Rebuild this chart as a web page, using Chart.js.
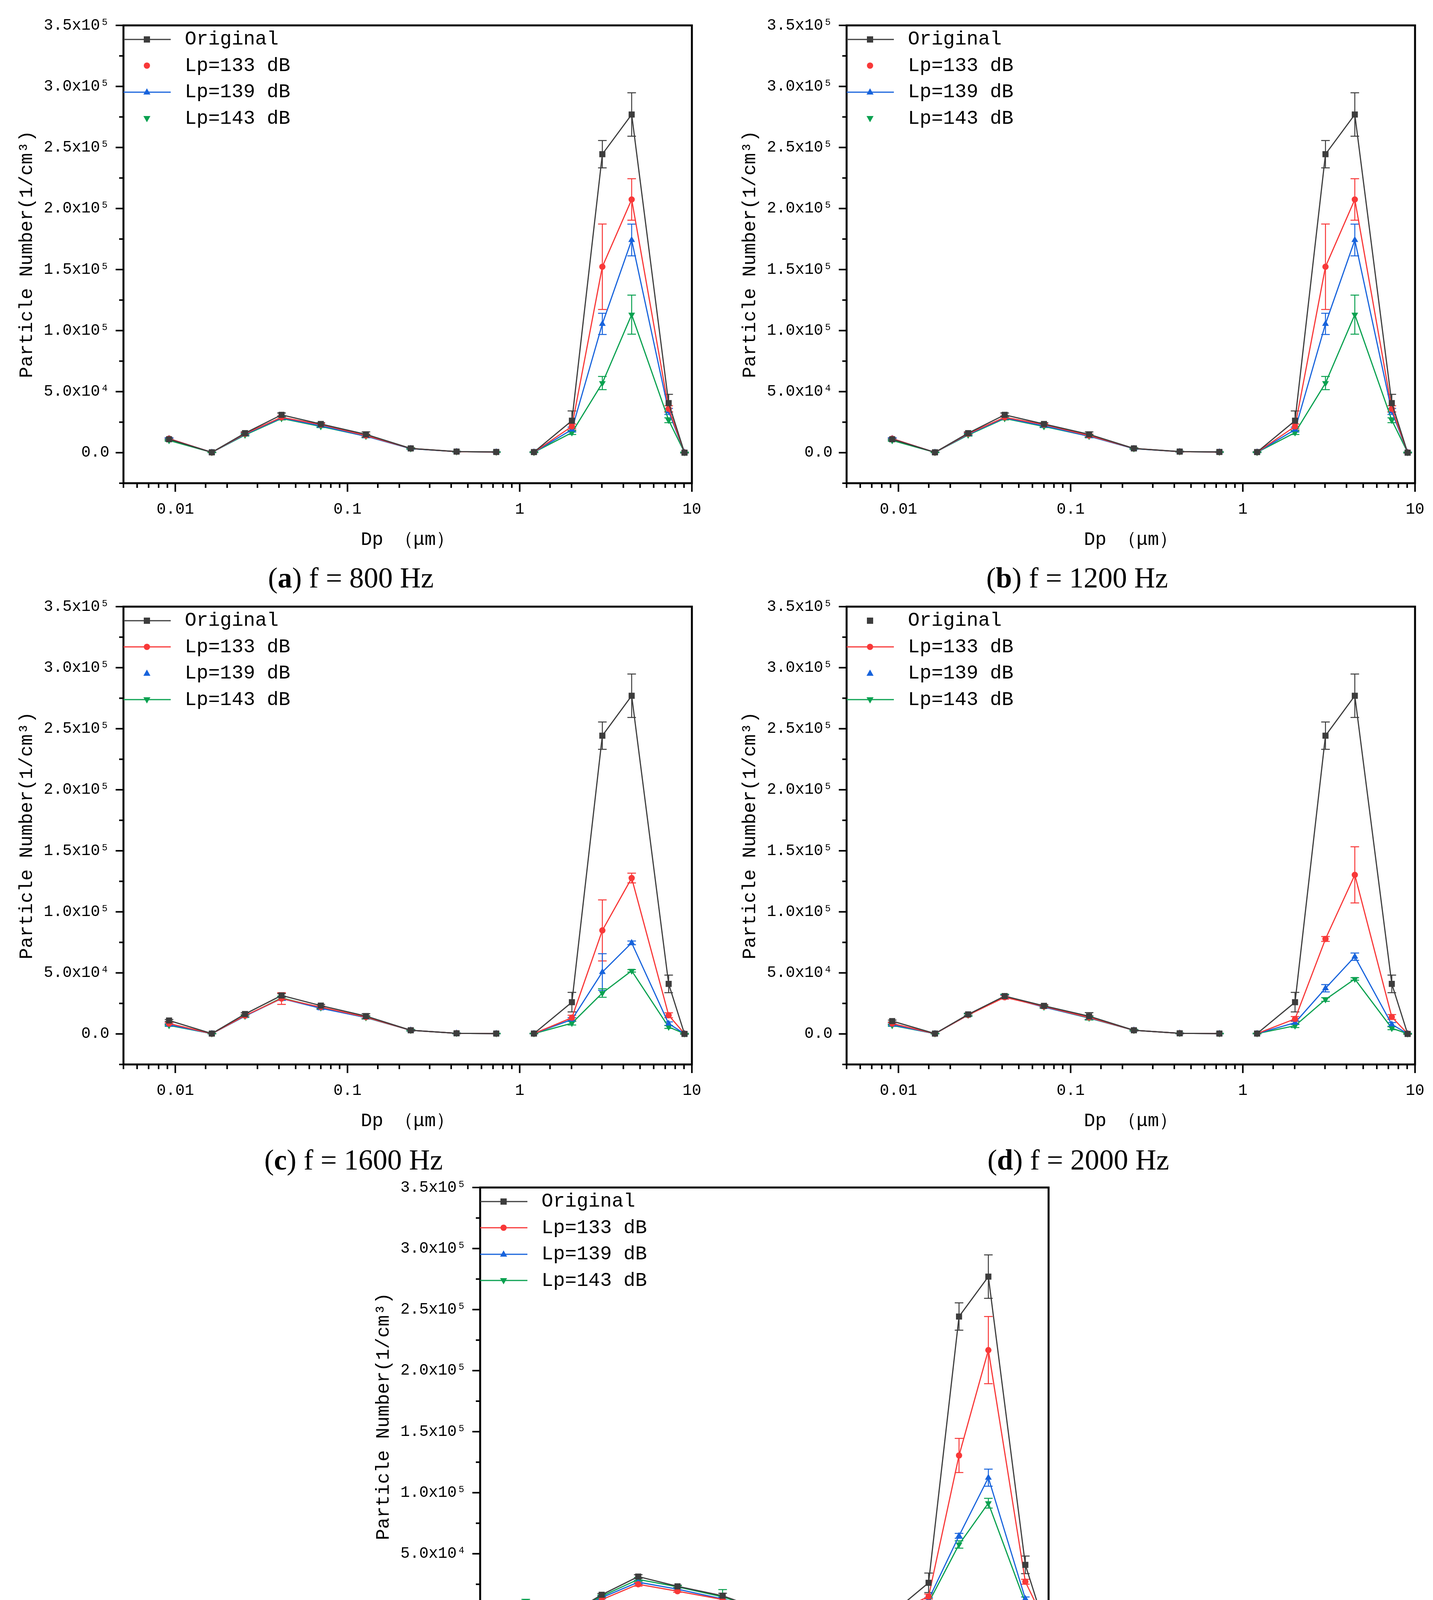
<!DOCTYPE html>
<html>
<head>
<meta charset="utf-8">
<script src="https://cdn.jsdelivr.net/npm/chart.js@4.4.1/dist/chart.umd.min.js"></script>
<style>
  html, body { margin: 0; padding: 0; background: #fff; }
  body { width: 3668px; height: 4508px; position: relative; overflow: hidden; }
  .panel { position: absolute; }
  .caption { position: absolute; transform: translate(-50%, -50%); white-space: nowrap;
             font-family: 'Liberation Serif', 'DejaVu Serif', serif; font-size: 74px; color: #000; }
  .legend { position: absolute; font-family: 'Liberation Mono', 'DejaVu Sans Mono', monospace;
            font-size: 50px; color: #000; }
  .legend .row { display: flex; align-items: center; height: 67.5px; white-space: pre; }
  .legend svg { flex: none; }
</style>
</head>
<body>
<script>
// ---------------- DATA ----------------
const seriesNames = ['Original', 'Lp=133 dB', 'Lp=139 dB', 'Lp=143 dB'];
const dp = [0.0092, 0.0163, 0.0254, 0.0414, 0.0700, 0.128, 0.233, 0.430, 0.731, 1.21, 2.01, 3.02, 4.47, 7.33, 9.06];
const gapAfterIndex = 8; // instrument change: line is broken between 0.731 and 1.21 um

const yTickValues = [0, 50000, 100000, 150000, 200000, 250000, 300000, 350000];
const yTickLabels = ['0.0', '5.0x10⁴', '1.0x10⁵', '1.5x10⁵', '2.0x10⁵', '2.5x10⁵', '3.0x10⁵', '3.5x10⁵'];
const xTickValues = [0.01, 0.1, 1, 10];
const xTickLabels = ['0.01', '0.1', '1', '10'];

// (a) f = 800 Hz
const orig800   = [11000, 300, 16000, 31000, 23500, 15000, 3500, 900, 600, 500, 26200, 244500, 277000, 40600, 0];
const lp133_800 = [11500, 200, 15500, 29000, 23000, 14000, 3500, 800, 500, 400, 21500, 152300, 207400, 35900, 200];
const lp139_800 = [11500, 200, 15000, 28500, 22000, 13500, 3300, 800, 500, 400, 18900, 105500, 174200, 33800, 200];
const lp143_800 = [10000, 200, 14500, 28000, 21500, 13500, 3300, 800, 500, 300, 16400, 57000, 113100, 26600, 200];
const origErr800  = [800, 300, 1000, 1500, 1000, 2000, 600, 300, 300, 300, 8000, 11200, 17800, 7200, 300];
const lp133Err800 = [700, 200, 900, 1200, 900, 1200, 500, 200, 200, 200, 2000, 35000, 17000, 2500, 200];
const lp139Err800 = [700, 200, 900, 1200, 900, 1200, 500, 200, 200, 200, 2000, 8700, 13000, 2500, 200];
const lp143Err800 = [700, 200, 900, 1200, 900, 1200, 500, 200, 200, 200, 1500, 5400, 16000, 2000, 200];

// (b) f = 1200 Hz
const orig1200   = [11000, 300, 16000, 31000, 23500, 15000, 3500, 900, 600, 500, 26200, 244500, 277000, 40600, 0];
const lp133_1200 = [11500, 200, 15500, 29000, 23000, 14000, 3500, 800, 500, 400, 21500, 152300, 207400, 35900, 200];
const lp139_1200 = [11500, 200, 15000, 28500, 22000, 13500, 3300, 800, 500, 400, 18900, 105500, 174200, 33800, 200];
const lp143_1200 = [10000, 200, 14500, 28000, 21500, 13500, 3300, 800, 500, 300, 16400, 57000, 113100, 26600, 200];
const origErr1200  = [800, 300, 1000, 1500, 1000, 2000, 600, 300, 300, 300, 8000, 11200, 17800, 7200, 300];
const lp133Err1200 = [700, 200, 900, 1200, 900, 1200, 500, 200, 200, 200, 2000, 35000, 17000, 2500, 200];
const lp139Err1200 = [700, 200, 900, 1200, 900, 1200, 500, 200, 200, 200, 2000, 8700, 13000, 2500, 200];
const lp143Err1200 = [700, 200, 900, 1200, 900, 1200, 500, 200, 200, 200, 1500, 5400, 16000, 2000, 200];

// (c) f = 1600 Hz
const orig1600   = [11000, 300, 16300, 31500, 23200, 14600, 3000, 500, 300, 300, 26000, 244300, 277000, 41000, 0];
const lp133_1600 = [8500, 200, 15000, 29000, 22000, 13800, 3000, 500, 300, 300, 13300, 84800, 127700, 15300, 200];
const lp139_1600 = [7500, 200, 14600, 29000, 21000, 13500, 3000, 500, 300, 300, 11800, 50700, 74600, 8400, 200];
const lp143_1600 = [7000, 200, 14600, 29500, 21500, 13400, 3000, 500, 300, 300, 8800, 33500, 51700, 5700, 200];
const origErr1600  = [800, 300, 1000, 1500, 1000, 2000, 600, 300, 300, 300, 8000, 11200, 17800, 7200, 300];
const lp133Err1600 = [700, 200, 900, 4800, 900, 1200, 500, 200, 200, 200, 2000, 25000, 4000, 2000, 200];
const lp139Err1600 = [700, 200, 900, 1500, 900, 1200, 500, 200, 200, 200, 1500, 15000, 1500, 1500, 200];
const lp143Err1600 = [700, 200, 900, 1500, 900, 1200, 500, 200, 200, 200, 1500, 3500, 1000, 1200, 200];

// (d) f = 2000 Hz
const orig2000   = [10500, 300, 16000, 31000, 23000, 14500, 3000, 500, 300, 300, 26000, 244300, 277000, 41000, 0];
const lp133_2000 = [8500, 200, 15500, 30000, 22500, 13500, 3000, 500, 300, 300, 12300, 77800, 130300, 13900, 200];
const lp139_2000 = [7500, 200, 15500, 30500, 22000, 13200, 3000, 500, 300, 300, 9200, 37400, 63300, 7800, 200];
const lp143_2000 = [7000, 200, 15500, 31000, 22000, 13000, 3000, 500, 300, 300, 6700, 28200, 45000, 4700, 200];
const origErr2000  = [800, 300, 1000, 1500, 1000, 3000, 600, 300, 300, 300, 8000, 11200, 17800, 7200, 300];
const lp133Err2000 = [700, 200, 900, 1500, 900, 1500, 500, 200, 200, 200, 2000, 2000, 23000, 2000, 200];
const lp139Err2000 = [700, 200, 900, 1500, 900, 1500, 500, 200, 200, 200, 1500, 3000, 3000, 1500, 200];
const lp143Err2000 = [700, 200, 900, 1500, 900, 1500, 500, 200, 200, 200, 1500, 1500, 1000, 1200, 200];

// (e) f = 2400 Hz
const orig2400   = [8000, 300, 16400, 31300, 23300, 15600, 2600, 300, 300, 300, 26200, 244300, 277000, 40900, 0];
const lp133_2400 = [6600, 200, 12400, 25000, 19300, 12500, 2600, 300, 300, 300, 15000, 130500, 216800, 27100, 200];
const lp139_2400 = [7800, 200, 14100, 26700, 21000, 13000, 2600, 300, 300, 300, 12500, 64700, 112300, 13100, 200];
const lp143_2400 = [11200, 200, 15200, 29000, 22900, 14700, 2600, 300, 300, 300, 9900, 57600, 91400, 9700, 200];
const origErr2400  = [800, 300, 1000, 1500, 1000, 2000, 2500, 300, 300, 300, 8000, 11200, 17800, 7200, 300];
const lp133Err2400 = [700, 200, 900, 1500, 900, 1500, 2500, 200, 200, 200, 2000, 14000, 27500, 2000, 200];
const lp139Err2400 = [700, 200, 900, 1500, 900, 1500, 2500, 200, 200, 200, 1500, 2000, 7000, 1500, 200];
const lp143Err2400 = [1500, 200, 900, 1500, 900, 6000, 2500, 200, 200, 200, 1500, 3000, 4000, 1200, 200];

// ---------------- STYLE / LAYOUT ----------------
const colors = ['#3d3d3d', '#f83838', '#1763dc', '#0aa150'];
const pointStyles = ['rect', 'circle', 'triangle', 'triangle'];
const pointRotations = [0, 0, 0, 180];
const pointRadii = [11, 8, 10, 10];

const PLOT_W = 1455, PLOT_H = 1172, YW = 316, PAD_T = 70, PAD_R = 75, XH = 200;

const panels = [
  { letter: 'a', freq: '800',  left: 316,  top: 65,   cap: [898, 1479],
    vals: [orig800, lp133_800, lp139_800, lp143_800], errs: [origErr800, lp133Err800, lp139Err800, lp143Err800],
    legendLine: [true, false, true, false] },
  { letter: 'b', freq: '1200', left: 2167, top: 65,   cap: [2757, 1479],
    vals: [orig1200, lp133_1200, lp139_1200, lp143_1200], errs: [origErr1200, lp133Err1200, lp139Err1200, lp143Err1200],
    legendLine: [true, false, true, false] },
  { letter: 'c', freq: '1600', left: 316,  top: 1553, cap: [905, 2969],
    vals: [orig1600, lp133_1600, lp139_1600, lp143_1600], errs: [origErr1600, lp133Err1600, lp139Err1600, lp143Err1600],
    legendLine: [true, true, false, true] },
  { letter: 'd', freq: '2000', left: 2167, top: 1553, cap: [2760, 2969],
    vals: [orig2000, lp133_2000, lp139_2000, lp143_2000], errs: [origErr2000, lp133Err2000, lp139Err2000, lp143Err2000],
    legendLine: [false, true, false, true] },
  { letter: 'e', freq: '2400', left: 1229, top: 3040, cap: [1832, 4471],
    vals: [orig2400, lp133_2400, lp139_2400, lp143_2400], errs: [origErr2400, lp133Err2400, lp139Err2400, lp143Err2400],
    legendLine: [true, true, true, true] }
];

Chart.defaults.font.family = "'Liberation Mono', 'DejaVu Sans Mono', monospace";
Chart.defaults.color = '#000';

const isPow10 = v => Math.abs(Math.log10(v) - Math.round(Math.log10(v))) < 1e-6;

const errorBars = {
  id: 'errorBars',
  beforeDatasetsDraw(chart) {
    const { ctx, scales: { x, y } } = chart;
    ctx.save();
    ctx.lineWidth = 2.5;
    chart.data.datasets.forEach((ds) => {
      if (!ds.errors) return;
      ctx.strokeStyle = ds.borderColor;
      ds.data.forEach((p, j) => {
        const e = ds.errors[j];
        if (!e || p.y == null) return;
        const px = x.getPixelForValue(p.x);
        const t = y.getPixelForValue(p.y + e), b = y.getPixelForValue(p.y - e);
        ctx.beginPath();
        ctx.moveTo(px, t); ctx.lineTo(px, b);
        ctx.moveTo(px - 11, t); ctx.lineTo(px + 11, t);
        ctx.moveTo(px - 11, b); ctx.lineTo(px + 11, b);
        ctx.stroke();
      });
    });
    ctx.restore();
  }
};

const frameTicks = {
  id: 'frameTicks',
  afterDraw(chart) {
    const { ctx, chartArea: a, scales: { x, y } } = chart;
    ctx.save();
    ctx.strokeStyle = '#000';
    ctx.lineWidth = 4;
    x.ticks.forEach(t => {
      const px = x.getPixelForValue(t.value);
      if (px < a.left - 1 || px > a.right + 1) return;
      const len = isPow10(t.value) ? 22 : 12;
      ctx.beginPath(); ctx.moveTo(px, a.bottom); ctx.lineTo(px, a.bottom + len); ctx.stroke();
    });
    y.ticks.forEach(t => {
      const py = y.getPixelForValue(t.value);
      const major = yTickValues.some(v => Math.abs(v - t.value) < 1);
      ctx.beginPath(); ctx.moveTo(a.left, py); ctx.lineTo(a.left - (major ? 20 : 11), py); ctx.stroke();
    });
    ctx.lineWidth = 5;
    ctx.strokeRect(a.left, a.top, a.right - a.left, a.bottom - a.top);
    ctx.restore();
  }
};

function legendSymbol(i, withLine) {
  const c = colors[i];
  let shape = '';
  if (i === 0) shape = `<rect x="52" y="7" width="16" height="16" fill="${c}"/>`;
  else if (i === 1) shape = `<circle cx="60" cy="15" r="8" fill="${c}"/>`;
  else if (i === 2) shape = `<polygon points="60,5 69,21 51,21" fill="${c}"/>`;
  else shape = `<polygon points="51,9 69,9 60,25" fill="${c}"/>`;
  const line = withLine ? `<line x1="0" y1="15" x2="121" y2="15" stroke="${c}" stroke-width="3"/>` : '';
  return `<svg width="157" height="30" viewBox="0 0 157 30">${line}${shape}</svg>`;
}

panels.forEach(p => {
  const wrap = document.createElement('div');
  wrap.className = 'panel';
  const W = YW + PLOT_W + PAD_R, H = PAD_T + PLOT_H + XH;
  wrap.style.left = (p.left - YW) + 'px';
  wrap.style.top = (p.top - PAD_T) + 'px';
  wrap.style.width = W + 'px';
  wrap.style.height = H + 'px';
  const cv = document.createElement('canvas');
  wrap.appendChild(cv);
  document.body.appendChild(wrap);

  const datasets = seriesNames.map((name, i) => ({
    label: name,
    data: dp.map((d, j) => ({ x: d, y: p.vals[i][j] })),
    errors: p.errs[i],
    borderColor: colors[i],
    backgroundColor: colors[i],
    borderWidth: 3,
    pointStyle: pointStyles[i],
    pointRotation: pointRotations[i],
    pointRadius: pointRadii[i],
    pointHoverRadius: pointRadii[i],
    pointBorderWidth: 0,
    tension: 0,
    segment: { borderColor: ctx => ctx.p0DataIndex === gapAfterIndex ? 'rgba(0,0,0,0)' : undefined }
  }));

  new Chart(cv, {
    type: 'line',
    data: { datasets },
    options: {
      responsive: true,
      maintainAspectRatio: false,
      devicePixelRatio: 1,
      animation: false,
      layout: { padding: { top: PAD_T, right: PAD_R, bottom: 0, left: 0 } },
      plugins: { legend: { display: false }, tooltip: { enabled: false } },
      scales: {
        x: {
          type: 'logarithmic', min: 0.005, max: 10,
          grid: { display: false, drawTicks: false },
          border: { display: false },
          ticks: {
            autoSkip: false, maxRotation: 0, minRotation: 0, padding: 43,
            font: { size: 40 },
            callback: v => { const k = xTickValues.findIndex(t => Math.abs(t - v) / t < 1e-6); return k >= 0 ? xTickLabels[k] : ''; }
          },
          title: { display: true, text: 'Dp （μm）', font: { size: 48 }, padding: { top: 0, bottom: 26 } },
          afterFit: s => { s.height = XH; }
        },
        y: {
          type: 'linear', min: -25000, max: 350000,
          grid: { display: false, drawTicks: false },
          border: { display: false },
          ticks: {
            stepSize: 25000, padding: 36, font: { size: 40 },
            callback: v => { const k = yTickValues.findIndex(t => Math.abs(t - v) < 1); return k >= 0 ? yTickLabels[k] : ''; }
          },
          title: { display: true, text: 'Particle Number(1/cm³)', font: { size: 48 }, padding: { top: 40, bottom: 0 } },
          afterFit: s => { s.width = YW; }
        }
      }
    },
    plugins: [errorBars, frameTicks]
  });

  const lg = document.createElement('div');
  lg.className = 'legend';
  lg.style.left = p.left + 'px';
  lg.style.top = (p.top + 2) + 'px';
  lg.innerHTML = seriesNames.map((n, i) =>
    `<div class="row">${legendSymbol(i, p.legendLine[i])}<span>${n}</span></div>`).join('');
  document.body.appendChild(lg);

  const cap = document.createElement('div');
  cap.className = 'caption';
  cap.style.left = p.cap[0] + 'px';
  cap.style.top = p.cap[1] + 'px';
  cap.innerHTML = `(<b>${p.letter}</b>) f = ${p.freq} Hz`;
  document.body.appendChild(cap);
});
</script>
</body>
</html>
